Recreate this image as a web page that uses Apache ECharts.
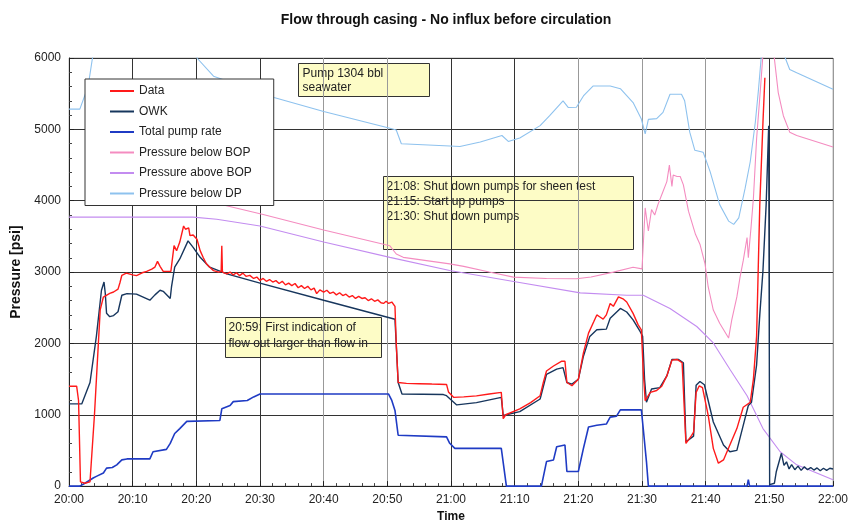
<!DOCTYPE html>
<html lang="en">
<head>
<meta charset="UTF-8">
<title>Flow through casing</title>
<script src="https://cdn.jsdelivr.net/npm/echarts@6/dist/echarts.min.js"></script>
<style>
  html, body { margin: 0; padding: 0; background: #fff; }
  #chart { width: 852px; height: 528px; }
</style>
</head>
<body>
<div id="chart"></div>
<script>
// minutes after 20:00 / pressure in psi
var dataT = [0, 1.2, 1.5, 1.8, 2.5, 3.3, 4.0, 4.9, 5.4, 6.4, 7.0, 7.7, 8.0, 8.3, 9.0, 10.0, 10.6, 11.5, 12.2, 13.0, 13.5, 13.9, 14.3, 14.8, 16.0, 16.5, 16.9, 17.4, 18.0, 18.3, 18.5, 18.8, 19.0, 19.5, 20.1, 20.6, 21.1, 21.6, 22.2, 22.7, 23.5, 23.9, 24.0, 24.1, 24.8, 25.3, 25.8, 26.3, 26.8, 27.3, 27.8, 28.4, 29, 29.5, 30, 30.5, 31, 31.5, 32, 32.5, 33, 33.5, 34, 34.5, 35, 35.5, 36, 36.5, 37, 37.5, 38, 38.5, 38.9, 39.4, 40, 40.5, 41, 41.5, 42, 42.5, 43, 43.5, 44, 44.5, 45, 45.5, 46, 46.5, 47, 47.5, 48, 48.5, 49, 49.4, 49.8, 50.2, 50.7, 51.2, 51.4, 51.7, 53, 55, 57, 59.3, 59.6, 60.4, 62, 64, 66, 67.9, 68.2, 68.6, 70.8, 72.5, 74.0, 74.5, 75.0, 76.1, 77.4, 77.9, 78.2, 79.0, 80.0, 80.8, 81.6, 82.4, 82.9, 83.4, 83.9, 84.4, 85.0, 85.5, 86.3, 87.1, 87.6, 88.6, 89.4, 89.9, 90.2, 90.5, 91.3, 92.3, 93.1, 93.9, 94.7, 95.5, 96.3, 96.6, 96.9, 97.8, 98.1, 98.5, 99.0, 99.5, 100.4, 101.2, 102.0, 102.8, 103.8, 104.9, 105.9, 107.0, 107.2, 107.5, 108.0, 108.5, 109.0, 109.3];
var dataV = [1400, 1400, 1200, 60, 40, 60, 1000, 2470, 2650, 2700, 2720, 2760, 2850, 2955, 2985, 2960, 2950, 2990, 3010, 3040, 3070, 3150, 3080, 3010, 3010, 3370, 3300, 3420, 3645, 3600, 3580, 3620, 3510, 3520, 3460, 3300, 3200, 3113, 3060, 3020, 3000, 3010, 3370, 3000, 2975, 3000, 2960, 2990, 2950, 2985, 2940, 2953, 2910, 2930, 2883, 2910, 2870, 2895, 2860, 2880, 2840, 2870, 2820, 2845, 2810, 2840, 2780, 2810, 2770, 2800, 2750, 2775, 2698, 2750, 2720, 2745, 2700, 2720, 2680, 2710, 2670, 2690, 2650, 2670, 2630, 2660, 2630, 2640, 2600, 2625, 2590, 2610, 2570, 2560, 2590, 2560, 2580, 2520, 2000, 1452, 1440, 1435, 1430, 1425, 1320, 1244, 1250, 1265, 1290, 1313, 944, 1000, 1083, 1170, 1267, 1452, 1613, 1683, 1752, 1750, 1452, 1406, 1497, 1867, 2144, 2300, 2399, 2370, 2340, 2400, 2560, 2520, 2652, 2620, 2580, 2421, 2260, 2190, 1600, 1198, 1313, 1340, 1400, 1544, 1766, 1775, 1729, 1720, 598, 710, 755, 1313, 1406, 1380, 990, 529, 321, 367, 575, 806, 1105, 1175, 1180, 1500, 2100, 3945, 5100, 5723];

var owkT = [0, 2.0, 3.3, 4.3, 5.1, 5.5, 5.7, 5.9, 6.4, 7.0, 7.7, 8.3, 9.1, 10.6, 12.7, 13.5, 14.3, 14.8, 15.9, 16.1, 16.6, 17.4, 18.7, 19.5, 20.6, 22.1, 24.8, 30, 40, 51.2, 51.7, 52.3, 58.8, 59.3, 60.9, 64, 67.9, 68.2, 70.8, 74.0, 75.0, 76.6, 77.6, 78.2, 79.0, 80.0, 80.8, 81.8, 82.9, 84.4, 85.0, 86.6, 87.6, 88.6, 89.7, 90.1, 90.4, 90.7, 91.5, 92.8, 93.9, 94.7, 95.7, 96.5, 96.9, 98.1, 98.5, 99.1, 99.8, 101.2, 102.8, 103.8, 104.9, 105.9, 106.7, 107.2, 108.0, 108.5, 109.0, 109.5, 109.9, 110.05, 110.8, 111.1, 111.9, 112.3, 112.7, 113.1, 113.5, 114.0, 114.5, 115.0, 115.5, 116, 116.5, 117, 117.5, 118, 118.5, 119, 119.5, 120];
var owkV = [1152, 1152, 1452, 2098, 2745, 2860, 2700, 2421, 2375, 2390, 2444, 2675, 2698, 2690, 2606, 2680, 2745, 2730, 2629, 2791, 3068, 3183, 3437, 3345, 3206, 3068, 2975, 2845, 2605, 2338, 1452, 1290, 1283, 1267, 1138, 1170, 1244, 990, 1044, 1221, 1567, 1640, 1660, 1452, 1430, 1497, 1821, 2098, 2191, 2200, 2352, 2490, 2440, 2329, 2167, 2100, 1500, 1175, 1360, 1380, 1544, 1775, 1775, 1729, 620, 700, 1413, 1466, 1420, 898, 575, 482, 500, 852, 1129, 1175, 1700, 2400, 3022, 3945, 5050, 20, 40, 205, 460, 290, 340, 240, 300, 230, 280, 220, 270, 230, 260, 225, 255, 215, 250, 220, 250, 240];

var pumpT = [0, 1.7, 2.5, 3.8, 4.3, 5.4, 5.9, 6.8, 7.5, 8.3, 9.1, 12.7, 13.2, 15.3, 15.9, 16.6, 17.4, 18.5, 23.7, 24.0, 25.3, 25.8, 28.0, 29.0, 30.0, 50.2, 50.7, 51.2, 51.7, 52.0, 59.3, 59.8, 60.6, 67.9, 68.7, 74.2, 75.0, 76.1, 76.6, 77.9, 78.2, 80.0, 80.8, 81.6, 82.9, 84.4, 85.0, 86.0, 86.6, 89.9, 90.2, 90.7, 91.0, 106.5, 106.7, 106.9, 120];
var pumpV = [0, 0, 40, 113, 136, 183, 252, 260, 298, 368, 381, 381, 482, 515, 598, 737, 806, 907, 920, 1083, 1129, 1184, 1200, 1250, 1290, 1290, 1200, 1060, 713, 690, 690, 600, 529, 529, 0, 0, 344, 367, 552, 575, 205, 205, 529, 829, 852, 870, 967, 980, 1069, 1069, 800, 344, 0, 0, 90, 0, 0];

var belowBopT = [5, 30.5, 40, 50.4, 51.4, 52.5, 59.8, 62, 66, 69.8, 75, 79.7, 82, 85.5, 88.6, 90.0, 90.2, 90.5, 91.0, 91.5, 92.0, 92.5, 93.1, 93.9, 94.3, 94.7, 94.9, 95.5, 96.0, 96.5, 97.3, 98.4, 99.1, 99.9, 100.4, 101.2, 102.2, 103.6, 104.1, 104.9, 105.4, 105.9, 106.5, 106.7, 107.1, 107.5, 108.0, 108.6, 109.2, 110.4, 111.4, 112.2, 113.2, 114.3, 120];
var belowBopV = [4350, 3806, 3590, 3368, 3253, 3206, 3114, 3080, 3000, 2929, 2910, 2906, 2930, 2999, 3068, 3044, 3068, 3899, 3576, 3876, 3800, 3945, 4083, 4268, 4499, 4200, 4360, 4340, 4340, 4222, 3853, 3529, 3391, 3113, 2791, 2468, 2283, 2075, 2329, 2652, 2929, 3160, 3483, 3200, 3600, 4037, 4868, 5561, 6300, 6300, 5515, 5191, 4961, 4914, 4753];

var aboveBopT = [0, 19.5, 23.2, 30, 40, 50.4, 59.8, 70.3, 80.3, 87.6, 90.2, 94.4, 98.6, 101.2, 103.8, 106.5, 109.0, 111.7, 114.3, 120];
var aboveBopV = [3770, 3770, 3740, 3645, 3420, 3206, 3022, 2860, 2708, 2675, 2675, 2490, 2237, 2006, 1637, 1267, 806, 482, 298, 90];

var belowDpT = [0, 1.7, 3.0, 4.2, 19.8, 20.1, 22.7, 32.2, 40, 50.4, 51.4, 52.2, 59.8, 61.4, 64.6, 68.0, 69.0, 70.8, 74.0, 75.5, 77.6, 78.4, 79.7, 80.8, 82.3, 85.0, 86.6, 88.6, 89.9, 90.5, 91.0, 92.3, 93.3, 94.4, 96.2, 96.7, 97.5, 98.3, 99.6, 100.7, 102.2, 103.6, 104.4, 105.2, 106.2, 107.0, 107.8, 108.3, 109.0, 112.2, 112.5, 113.2, 114.3, 120];
var belowDpV = [5284, 5284, 5600, 6300, 6300, 6000, 5745, 5446, 5250, 5016, 4990, 4799, 4767, 4760, 4822, 4914, 4831, 4880, 5052, 5191, 5399, 5307, 5310, 5468, 5607, 5607, 5570, 5376, 5145, 4938, 5140, 5150, 5238, 5492, 5492, 5400, 4961, 4706, 4680, 4407, 3945, 3714, 3668, 3760, 4176, 4546, 5100, 5561, 6300, 6300, 6000, 5838, 5792, 5561];

var seriesNames = ['Data', 'OWK', 'Total pump rate', 'Pressure below BOP', 'Pressure above BOP', 'Pressure below DP'];
var seriesColors = ['#ff1a1a', '#17365d', '#1f3bc4', '#f48cc0', '#c38cf0', '#8ec2ee'];

function pairs(t, v) {
    var out = [];
    for (var i = 0; i < t.length; i++) out.push([t[i], v[i]]);
    return out;
}

function clock(v) {
    var h = 20 + Math.floor(v / 60);
    var m = Math.round(v % 60);
    return h + ':' + (m < 10 ? '0' + m : m);
}

var allData = [
    pairs(dataT, dataV),
    pairs(owkT, owkV),
    pairs(pumpT, pumpV),
    pairs(belowBopT, belowBopV),
    pairs(aboveBopT, aboveBopV),
    pairs(belowDpT, belowDpV)
];
var widths = [1.4, 1.4, 1.6, 1.1, 1.1, 1.1];
var zs = [6, 5, 4, 3, 3, 3];

var font = 'Arial, "Liberation Sans", sans-serif';
var chart = echarts.init(document.getElementById('chart'));

var series = [];
for (var i = 0; i < seriesNames.length; i++) {
    series.push({
        name: seriesNames[i],
        type: 'line',
        data: allData[i],
        color: seriesColors[i],
        symbol: 'none',
        showSymbol: false,
        z: zs[i],
        lineStyle: { color: seriesColors[i], width: widths[i] }
    });
}

chart.setOption({
    animation: false,
    backgroundColor: '#fff',
    title: {
        text: 'Flow through casing - No influx before circulation',
        left: 441,
        top: 8,
        textAlign: 'center',
        textStyle: { fontFamily: font, fontSize: 14, fontWeight: 'bold', color: '#111' }
    },
    grid: {
        left: 69, right: 19, top: 58, bottom: 36,
        show: true, borderColor: '#bbb', borderWidth: 1
    },
    legend: {
        data: seriesNames,
        orient: 'vertical',
        left: 85,
        top: 79,
        icon: 'rect',
        itemWidth: 24,
        itemHeight: 2,
        itemGap: 8.5,
        padding: [6, 22, 6, 25],
        backgroundColor: '#fff',
        borderColor: '#333',
        borderWidth: 1,
        textStyle: { fontFamily: font, fontSize: 12, color: '#222' }
    },
    xAxis: {
        type: 'value',
        min: 0, max: 120, interval: 10,
        name: 'Time',
        nameLocation: 'middle',
        nameGap: 22,
        nameTextStyle: { fontFamily: font, fontSize: 12, fontWeight: 'bold', color: '#111' },
        axisLine: { lineStyle: { color: '#222', width: 1 } },
        axisTick: { inside: true, length: 5, lineStyle: { color: '#222' } },
        minorTick: { show: true, splitNumber: 5, length: 3, lineStyle: { color: '#444' } },
        axisLabel: { formatter: clock, margin: 8, fontFamily: font, fontSize: 12, color: '#222' },
        splitLine: {
            show: true,
            lineStyle: {
                width: 1,
                color: ['#888', '#333', '#333', '#333', '#999', '#999', '#333', '#333', '#999', '#999', '#999', '#333', '#999']
            }
        }
    },
    yAxis: {
        type: 'value',
        min: 0, max: 6000, interval: 1000,
        name: 'Pressure [psi]',
        nameLocation: 'middle',
        nameGap: 42,
        nameTextStyle: { fontFamily: font, fontSize: 14, fontWeight: 'bold', color: '#111' },
        axisLine: { show: true, lineStyle: { color: '#222', width: 1 } },
        axisTick: { show: true, inside: true, length: 5, lineStyle: { color: '#222' } },
        minorTick: { show: true, splitNumber: 5, length: 3, lineStyle: { color: '#444' } },
        axisLabel: { margin: 8, fontFamily: font, fontSize: 12, color: '#222',
                     formatter: function (v) { return String(v); } },
        splitLine: { show: true, lineStyle: { color: '#333', width: 1 } }
    },
    graphic: [
        {
            type: 'group', left: 298, top: 63, z: 20,
            children: [
                { type: 'rect', shape: { x: 0, y: 0, width: 131, height: 33 },
                  style: { fill: '#fdfcc6', stroke: '#333', lineWidth: 1 } },
                { type: 'text', x: 4, y: 3,
                  style: { text: 'Pump 1304 bbl\nseawater', font: '12px ' + font, fill: '#222', lineHeight: 14 } }
            ]
        },
        {
            type: 'group', left: 383, top: 176, z: 20,
            children: [
                { type: 'rect', shape: { x: 0, y: 0, width: 250, height: 73 },
                  style: { fill: '#fdfcc6', stroke: '#333', lineWidth: 1 } },
                { type: 'text', x: 3, y: 3,
                  style: { text: '21:08: Shut down pumps for sheen test\n21:15: Start up pumps\n21:30: Shut down pumps',
                           font: '12px ' + font, fill: '#222', lineHeight: 15 } }
            ]
        },
        {
            type: 'group', left: 225, top: 317, z: 20,
            children: [
                { type: 'rect', shape: { x: 0, y: 0, width: 156, height: 40 },
                  style: { fill: '#fdfcc6', stroke: '#333', lineWidth: 1 } },
                { type: 'text', x: 3, y: 2,
                  style: { text: '20:59: First indication of\nflow out larger than flow in',
                           font: '12px ' + font, fill: '#222', lineHeight: 16 } }
            ]
        }
    ],
    series: series
});
</script>
</body>
</html>
